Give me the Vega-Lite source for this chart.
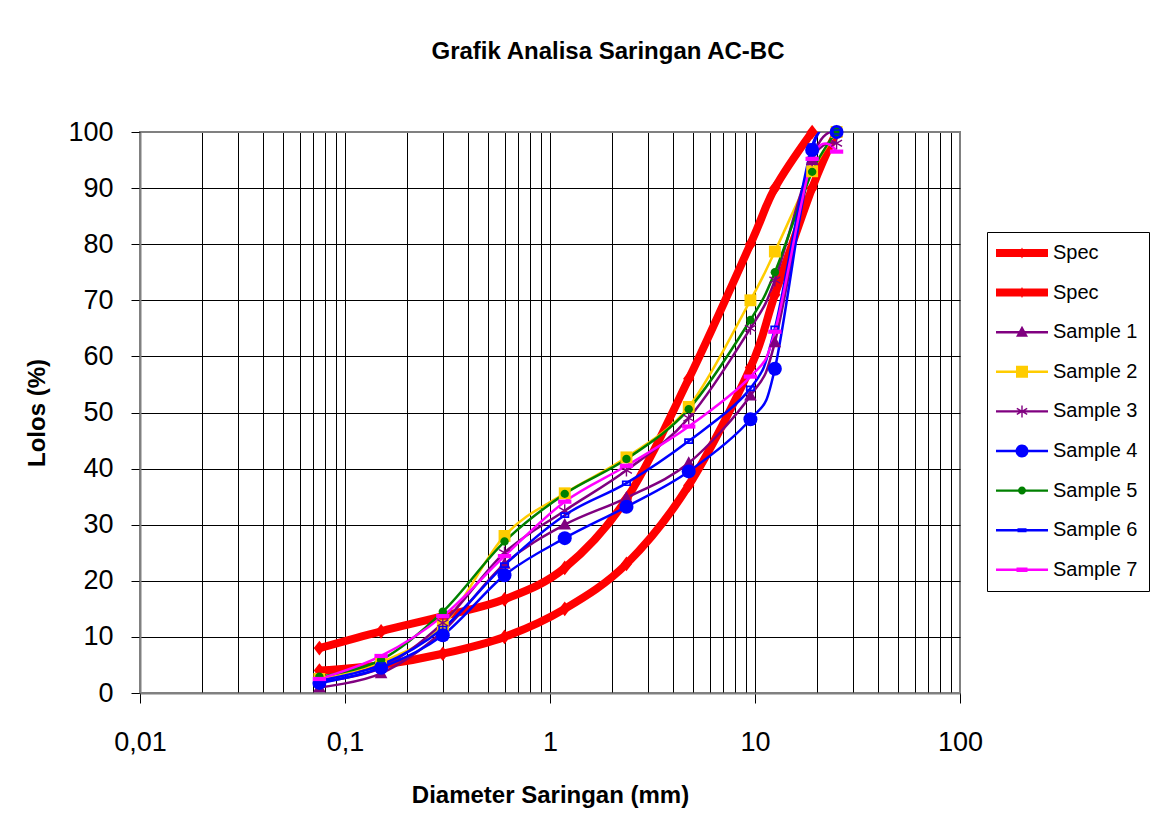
{
  "$schema": "https://vega.github.io/schema/vega-lite/v6.json",
  "autosize": "none",
  "width": 820,
  "height": 561,
  "padding": {"left": 140, "top": 132, "right": 196, "bottom": 139},
  "background": "white",
  "title": {"text": "Grafik Analisa Saringan AC-BC", "font": "Liberation Sans", "fontSize": 24, "fontWeight": "bold", "color": "black", "anchor": "middle", "frame": "group", "dx": 58, "offset": 54},
  "config": {
    "view": {"stroke": "#808080", "strokeWidth": 2},
    "axis": {"labelFont": "Liberation Sans", "titleFont": "Liberation Sans", "labelColor": "black", "titleColor": "black"}
  },
  "data": {"values": [
    {"series": "Spec Atas", "d": 0.075, "lolos": 8},
    {"series": "Spec Atas", "d": 0.15, "lolos": 11},
    {"series": "Spec Atas", "d": 0.3, "lolos": 13.7},
    {"series": "Spec Atas", "d": 0.6, "lolos": 16.7},
    {"series": "Spec Atas", "d": 1.18, "lolos": 22.3},
    {"series": "Spec Atas", "d": 2.36, "lolos": 34.6},
    {"series": "Spec Atas", "d": 4.75, "lolos": 56},
    {"series": "Spec Atas", "d": 9.5, "lolos": 80},
    {"series": "Spec Atas", "d": 12.5, "lolos": 90},
    {"series": "Spec Atas", "d": 19, "lolos": 100},
    {"series": "Spec Bawah", "d": 0.075, "lolos": 4},
    {"series": "Spec Bawah", "d": 0.15, "lolos": 5},
    {"series": "Spec Bawah", "d": 0.3, "lolos": 7},
    {"series": "Spec Bawah", "d": 0.6, "lolos": 10},
    {"series": "Spec Bawah", "d": 1.18, "lolos": 15},
    {"series": "Spec Bawah", "d": 2.36, "lolos": 23},
    {"series": "Spec Bawah", "d": 4.75, "lolos": 37},
    {"series": "Spec Bawah", "d": 9.5, "lolos": 58},
    {"series": "Spec Bawah", "d": 12.5, "lolos": 71},
    {"series": "Spec Bawah", "d": 19, "lolos": 90},
    {"series": "Spec Bawah", "d": 25, "lolos": 100},
    {"series": "Sample 1", "d": 0.075, "lolos": 1},
    {"series": "Sample 1", "d": 0.15, "lolos": 3.5},
    {"series": "Sample 1", "d": 0.3, "lolos": 11},
    {"series": "Sample 1", "d": 0.6, "lolos": 23},
    {"series": "Sample 1", "d": 1.18, "lolos": 30},
    {"series": "Sample 1", "d": 2.36, "lolos": 34.8},
    {"series": "Sample 1", "d": 4.75, "lolos": 41},
    {"series": "Sample 1", "d": 9.5, "lolos": 53},
    {"series": "Sample 1", "d": 12.5, "lolos": 62.5},
    {"series": "Sample 1", "d": 19, "lolos": 95},
    {"series": "Sample 1", "d": 25, "lolos": 100},
    {"series": "Sample 2", "d": 0.075, "lolos": 2.5},
    {"series": "Sample 2", "d": 0.15, "lolos": 5.5},
    {"series": "Sample 2", "d": 0.3, "lolos": 12},
    {"series": "Sample 2", "d": 0.6, "lolos": 28},
    {"series": "Sample 2", "d": 1.18, "lolos": 35.6},
    {"series": "Sample 2", "d": 2.36, "lolos": 42},
    {"series": "Sample 2", "d": 4.75, "lolos": 51},
    {"series": "Sample 2", "d": 9.5, "lolos": 70},
    {"series": "Sample 2", "d": 12.5, "lolos": 78.7},
    {"series": "Sample 2", "d": 19, "lolos": 93},
    {"series": "Sample 2", "d": 25, "lolos": 100},
    {"series": "Sample 3", "d": 0.075, "lolos": 2},
    {"series": "Sample 3", "d": 0.15, "lolos": 4.5},
    {"series": "Sample 3", "d": 0.3, "lolos": 12.5},
    {"series": "Sample 3", "d": 0.6, "lolos": 25},
    {"series": "Sample 3", "d": 1.18, "lolos": 32.5},
    {"series": "Sample 3", "d": 2.36, "lolos": 39.7},
    {"series": "Sample 3", "d": 4.75, "lolos": 49},
    {"series": "Sample 3", "d": 9.5, "lolos": 65},
    {"series": "Sample 3", "d": 12.5, "lolos": 73.6},
    {"series": "Sample 3", "d": 19, "lolos": 95},
    {"series": "Sample 3", "d": 25, "lolos": 98},
    {"series": "Sample 4", "d": 0.075, "lolos": 1.8},
    {"series": "Sample 4", "d": 0.15, "lolos": 4.5},
    {"series": "Sample 4", "d": 0.3, "lolos": 10.3},
    {"series": "Sample 4", "d": 0.6, "lolos": 21},
    {"series": "Sample 4", "d": 1.18, "lolos": 27.6},
    {"series": "Sample 4", "d": 2.36, "lolos": 33.2},
    {"series": "Sample 4", "d": 4.75, "lolos": 39.5},
    {"series": "Sample 4", "d": 9.5, "lolos": 48.8},
    {"series": "Sample 4", "d": 12.5, "lolos": 57.8},
    {"series": "Sample 4", "d": 19, "lolos": 96.8},
    {"series": "Sample 4", "d": 25, "lolos": 100},
    {"series": "Sample 5", "d": 0.075, "lolos": 2.9},
    {"series": "Sample 5", "d": 0.15, "lolos": 5.9},
    {"series": "Sample 5", "d": 0.3, "lolos": 14.5},
    {"series": "Sample 5", "d": 0.6, "lolos": 27},
    {"series": "Sample 5", "d": 1.18, "lolos": 35.5},
    {"series": "Sample 5", "d": 2.36, "lolos": 41.7},
    {"series": "Sample 5", "d": 4.75, "lolos": 50.6},
    {"series": "Sample 5", "d": 9.5, "lolos": 66.5},
    {"series": "Sample 5", "d": 12.5, "lolos": 75},
    {"series": "Sample 5", "d": 19, "lolos": 92.9},
    {"series": "Sample 5", "d": 25, "lolos": 100},
    {"series": "Sample 6", "d": 0.075, "lolos": 2.2},
    {"series": "Sample 6", "d": 0.15, "lolos": 5},
    {"series": "Sample 6", "d": 0.3, "lolos": 11.5},
    {"series": "Sample 6", "d": 0.6, "lolos": 22.8},
    {"series": "Sample 6", "d": 1.18, "lolos": 31.7},
    {"series": "Sample 6", "d": 2.36, "lolos": 37.4},
    {"series": "Sample 6", "d": 4.75, "lolos": 44.9},
    {"series": "Sample 6", "d": 9.5, "lolos": 54.3},
    {"series": "Sample 6", "d": 12.5, "lolos": 65},
    {"series": "Sample 6", "d": 19, "lolos": 97.5},
    {"series": "Sample 6", "d": 25, "lolos": 100},
    {"series": "Sample 7", "d": 0.075, "lolos": 2.5},
    {"series": "Sample 7", "d": 0.15, "lolos": 6.6},
    {"series": "Sample 7", "d": 0.3, "lolos": 13.7},
    {"series": "Sample 7", "d": 0.6, "lolos": 24.4},
    {"series": "Sample 7", "d": 1.18, "lolos": 34.1},
    {"series": "Sample 7", "d": 2.36, "lolos": 40.5},
    {"series": "Sample 7", "d": 4.75, "lolos": 47.5},
    {"series": "Sample 7", "d": 9.5, "lolos": 56.4},
    {"series": "Sample 7", "d": 12.5, "lolos": 64.4},
    {"series": "Sample 7", "d": 19, "lolos": 95.2},
    {"series": "Sample 7", "d": 25, "lolos": 96.5}
  ]},
  "encoding": {
    "x": {
      "field": "d", "type": "quantitative",
      "scale": {"type": "log", "domain": [0.01, 100], "nice": false},
      "axis": {
        "title": "Diameter Saringan (mm)", "titleFontSize": 24, "titleFontWeight": "bold", "titlePadding": 28,
        "values": [0.01,0.02,0.03,0.04,0.05,0.06,0.07,0.08,0.09,0.1,0.2,0.3,0.4,0.5,0.6,0.7,0.8,0.9,1,2,3,4,5,6,7,8,9,10,20,30,40,50,60,70,80,90,100],
        "labelExpr": "datum.value==0.01?'0,01':datum.value==0.1?'0,1':datum.value==1?'1':datum.value==10?'10':datum.value==100?'100':''",
        "labelFontSize": 27, "labelPadding": 26, "labelOverlap": false, "labelFlush": false, "labelBound": false,
        "grid": true, "gridColor": {"condition": {"test": "datum.value==100", "value": "#808080"}, "value": "black"}, "gridWidth": 1, "gridOpacity": 1,
        "ticks": true, "tickSize": 10, "tickColor": "black",
        "tickOpacity": {"condition": {"test": "datum.value==0.01||datum.value==0.1||datum.value==1||datum.value==10||datum.value==100", "value": 1}, "value": 0},
        "domainColor": "#808080", "domainWidth": 2
      }
    },
    "y": {
      "field": "lolos", "type": "quantitative",
      "scale": {"domain": [0, 100], "nice": false},
      "axis": {
        "title": "Lolos (%)", "titleFontSize": 24, "titleFontWeight": "bold", "titlePadding": 18,
        "values": [0,10,20,30,40,50,60,70,80,90,100],
        "labelFontSize": 27, "labelPadding": 18,
        "grid": true, "gridColor": {"condition": {"test": "datum.value==100", "value": "#808080"}, "value": "black"}, "gridWidth": 1, "gridOpacity": 1,
        "tickSize": 9, "tickColor": "black",
        "domainColor": "#808080", "domainWidth": 2
      }
    }
  },
  "resolve": {"scale": {"color": "independent", "shape": "independent"}, "legend": {"color": "independent", "shape": "independent"}},
  "layer": [
    {
      "mark": {"type": "line", "interpolate": "cardinal", "clip": true},
      "encoding": {
        "color": {
          "field": "series", "type": "nominal", "legend": null,
          "scale": {
            "domain": ["Spec Atas","Spec Bawah","Sample 1","Sample 2","Sample 3","Sample 4","Sample 5","Sample 6","Sample 7"],
            "range": ["#FF0000","#FF0000","#800080","#FFCC00","#800080","#0000FF","#008000","#0000FF","#FF00FF"]
          }
        },
        "strokeWidth": {"condition": {"test": "indexof(datum.series,'Spec')==0", "value": 8}, "value": 2.5}
      }
    },
    {
      "mark": {"type": "point", "filled": true, "size": 196, "opacity": 1, "strokeWidth": 0},
      "encoding": {
        "color": {
          "field": "series", "type": "nominal", "legend": null,
          "scale": {
            "domain": ["Spec Atas","Spec Bawah","Sample 1","Sample 2","Sample 3","Sample 4","Sample 5","Sample 6","Sample 7"],
            "range": ["#FF0000","#FF0000","#800080","#FFCC00","#800080","#0000FF","#008000","#0000FF","#FF00FF"]
          }
        },
        "shape": {
          "field": "series", "type": "nominal", "legend": null,
          "scale": {
            "domain": ["Spec Atas","Spec Bawah","Sample 1","Sample 2","Sample 3","Sample 4","Sample 5","Sample 6","Sample 7"],
            "range": [
              "M0,-1.05L0.8,0L0,1.05L-0.8,0Z",
              "M0,-1.05L0.8,0L0,1.05L-0.8,0Z",
              "M0,-0.95L0.9,0.7H-0.9Z",
              "M-0.85,-0.85H0.85V0.85H-0.85Z",
              "M-0.1,-0.9H0.1V0.9H-0.1ZM-0.73,-0.537L0.83,0.363L0.73,0.537L-0.83,-0.363ZM-0.83,0.363L0.73,-0.537L0.83,-0.363L-0.73,0.537Z",
              "circle",
              "M-0.6,0A0.6,0.6 0 1,1 0.6,0A0.6,0.6 0 1,1 -0.6,0Z",
              "M-0.65,-0.4H0.65V0.4H-0.65ZM-0.4,-0.17V0.17H0.4V-0.17Z",
              "M-0.95,-0.3H0.95V0.3H-0.95Z"
            ]
          }
        }
      }
    },
    {
      "transform": [{"filter": "false"}],
      "mark": {"type": "point", "filled": true, "size": 400, "opacity": 1, "strokeWidth": 0},
      "encoding": {
        "color": {
          "field": "series", "type": "nominal",
          "scale": {
            "domain": ["Spec Atas","Spec Bawah","Sample 1","Sample 2","Sample 3","Sample 4","Sample 5","Sample 6","Sample 7"],
            "range": ["#FF0000","#FF0000","#800080","#FFCC00","#800080","#0000FF","#008000","#0000FF","#FF00FF"]
          },
          "legend": {
            "title": null, "orient": "none", "legendX": 847, "legendY": 100,
            "strokeColor": "black", "fillColor": "white", "padding": 11,
            "rowPadding": 19.6, "symbolSize": 400, "symbolOffset": 14, "labelOffset": 21,
            "symbolStrokeWidth": 0, "symbolOpacity": 1,
            "labelFont": "Liberation Sans", "labelFontSize": 20, "labelColor": "black", "labelLimit": 200,
            "labelExpr": "indexof(datum.label,'Spec')==0 ? 'Spec' : datum.label"
          }
        },
        "shape": {
          "field": "series", "type": "nominal",
          "scale": {
            "domain": ["Spec Atas","Spec Bawah","Sample 1","Sample 2","Sample 3","Sample 4","Sample 5","Sample 6","Sample 7"],
            "range": [
              "M-2.6,-0.4H2.6V0.4H-2.6ZM0,-0.55L0.3,0L0,0.55L-0.3,0Z",
              "M-2.6,-0.4H2.6V0.4H-2.6ZM0,-0.55L0.3,0L0,0.55L-0.3,0Z",
              "M-2.6,-0.12H2.6V0.12H-2.6ZM0,-0.65L0.6,0.45H-0.6Z",
              "M-2.6,-0.12H2.6V0.12H-2.6ZM-0.6,-0.6H0.6V0.6H-0.6Z",
              "M-2.6,-0.12H2.6V0.12H-2.6ZM-0.07,-0.6H0.07V0.6H-0.07ZM-0.485,-0.361L0.555,0.239L0.485,0.361L-0.555,-0.239ZM-0.555,0.239L0.485,-0.361L0.555,-0.239L-0.485,0.361Z",
              "M-2.6,-0.12H2.6V0.12H-2.6ZM-0.65,0A0.65,0.65 0 1,1 0.65,0A0.65,0.65 0 1,1 -0.65,0Z",
              "M-2.6,-0.12H2.6V0.12H-2.6ZM-0.4,0A0.4,0.4 0 1,1 0.4,0A0.4,0.4 0 1,1 -0.4,0Z",
              "M-2.6,-0.12H2.6V0.12H-2.6ZM-0.45,-0.2H0.45V0.2H-0.45Z",
              "M-2.6,-0.12H2.6V0.12H-2.6ZM-0.55,-0.22H0.55V0.22H-0.55Z"
            ]
          },
          "legend": {"title": null}
        }
      }
    }
  ]
}
